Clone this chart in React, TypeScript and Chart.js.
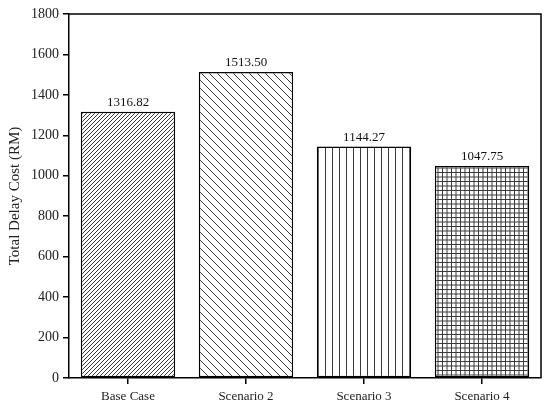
import React, { useEffect, useRef } from "react";
import { Chart, registerables } from "chart.js";

Chart.register(...registerables);

const categories = ["Base Case", "Scenario 2", "Scenario 3", "Scenario 4"];
const costValues = [1316.82, 1513.5, 1144.27, 1047.75];
const yTicksMax = 1800;
const yTickStep = 200;

const FONT = "'Liberation Serif', 'DejaVu Serif', serif";
const LINE = "#3a3a3a";

function makePattern(kind: string): CanvasPattern | string {
  const c = document.createElement("canvas");
  let s = 4;
  if (kind === "back") s = 8;
  if (kind === "vert") s = 7;
  const size = kind === "grid" ? 9 : s;
  c.width = size;
  c.height = size;
  const ctx = c.getContext("2d")!;
  ctx.fillStyle = "#fff";
  ctx.fillRect(0, 0, c.width, c.height);
  ctx.strokeStyle = LINE;
  ctx.lineWidth = 1;
  const w = c.width;
  if (kind === "fwd") {
    ctx.beginPath();
    for (let k = -1; k <= 1; k++) {
      ctx.moveTo(k * w, w);
      ctx.lineTo(k * w + w, 0);
    }
    ctx.stroke();
  } else if (kind === "back") {
    ctx.beginPath();
    for (let k = -1; k <= 1; k++) {
      ctx.moveTo(k * w, 0);
      ctx.lineTo(k * w + w, w);
    }
    ctx.stroke();
  } else if (kind === "vert") {
    ctx.beginPath();
    ctx.moveTo(3.5, 0);
    ctx.lineTo(3.5, w);
    ctx.stroke();
  } else {
    ctx.beginPath();
    ctx.moveTo(1.5, 0);
    ctx.lineTo(1.5, 9);
    ctx.moveTo(6, 0);
    ctx.lineTo(6, 9);
    ctx.moveTo(0, 1.5);
    ctx.lineTo(9, 1.5);
    ctx.moveTo(0, 6);
    ctx.lineTo(9, 6);
    ctx.stroke();
  }
  return ctx.createPattern(c, "repeat") || "#fff";
}

const framePlugin = {
  id: "frame",
  afterDraw(chart: any) {
    const { ctx, chartArea } = chart;
    ctx.save();
    ctx.strokeStyle = "#000";
    ctx.lineWidth = 1.5;
    ctx.beginPath();
    ctx.moveTo(chartArea.left, chartArea.top);
    ctx.lineTo(chartArea.right, chartArea.top);
    ctx.lineTo(chartArea.right, chartArea.bottom);
    ctx.stroke();
    ctx.restore();
  },
};

const valueLabelPlugin = {
  id: "valueLabels",
  afterDatasetsDraw(chart: any) {
    const { ctx } = chart;
    const meta = chart.getDatasetMeta(0);
    ctx.save();
    ctx.fillStyle = "#111";
    ctx.font = `13px ${FONT}`;
    ctx.textAlign = "center";
    ctx.textBaseline = "bottom";
    meta.data.forEach((bar: any, i: number) => {
      const v = chart.data.datasets[0].data[i] as number;
      ctx.fillText(v.toFixed(2), bar.x, bar.y - 3);
    });
    ctx.restore();
  },
};

export default function App() {
  const ref = useRef<HTMLCanvasElement>(null);
  useEffect(() => {
    document.body.style.margin = "0";
    const canvas = ref.current!;
    const patterns = [makePattern("fwd"), makePattern("back"), makePattern("vert"), makePattern("grid")];
    const chart = new Chart(canvas, {
      type: "bar",
      data: {
        labels: categories,
        datasets: [
          {
            data: costValues,
            backgroundColor: patterns as any,
            borderColor: "#000",
            borderWidth: 1.5,
            borderSkipped: false,
            categoryPercentage: 1,
            barPercentage: 0.8,
          },
        ],
      },
      options: {
        animation: false,
        responsive: false,
        devicePixelRatio: 1,
        layout: { padding: { top: 14, right: 9, left: 0, bottom: 0 } },
        plugins: { legend: { display: false }, tooltip: { enabled: false } },
        scales: {
          x: {
            grid: { display: true, drawOnChartArea: false, drawTicks: true, tickLength: 6, color: "#000", lineWidth: 1.5, offset: false },
            border: { display: true, color: "#000", width: 1.5 },
            ticks: { color: "#222", font: { family: FONT, size: 13 }, padding: 5 },
            afterFit: (s: any) => {
              s.height = 30;
            },
          },
          y: {
            min: 0,
            max: yTicksMax,
            ticks: {
              stepSize: yTickStep,
              color: "#222",
              font: { family: FONT, size: 14 },
              padding: 4,
              callback: (v: any) => String(v),
            },
            grid: { display: true, drawOnChartArea: false, drawTicks: true, tickLength: 6, color: "#000", lineWidth: 1.5 },
            border: { display: true, color: "#000", width: 1.5 },
            title: { display: true, text: "Total Delay Cost (RM)", color: "#222", font: { family: FONT, size: 15 }, padding: { top: 6, bottom: 2 } },
            afterFit: (s: any) => {
              s.width = 69;
            },
          },
        },
      },
      plugins: [framePlugin, valueLabelPlugin],
    });
    return () => chart.destroy();
  }, []);
  return (
    <div style={{ width: 550, height: 408, background: "#fff" }}>
      <canvas ref={ref} width={550} height={408} style={{ display: "block" }} />
    </div>
  );
}
